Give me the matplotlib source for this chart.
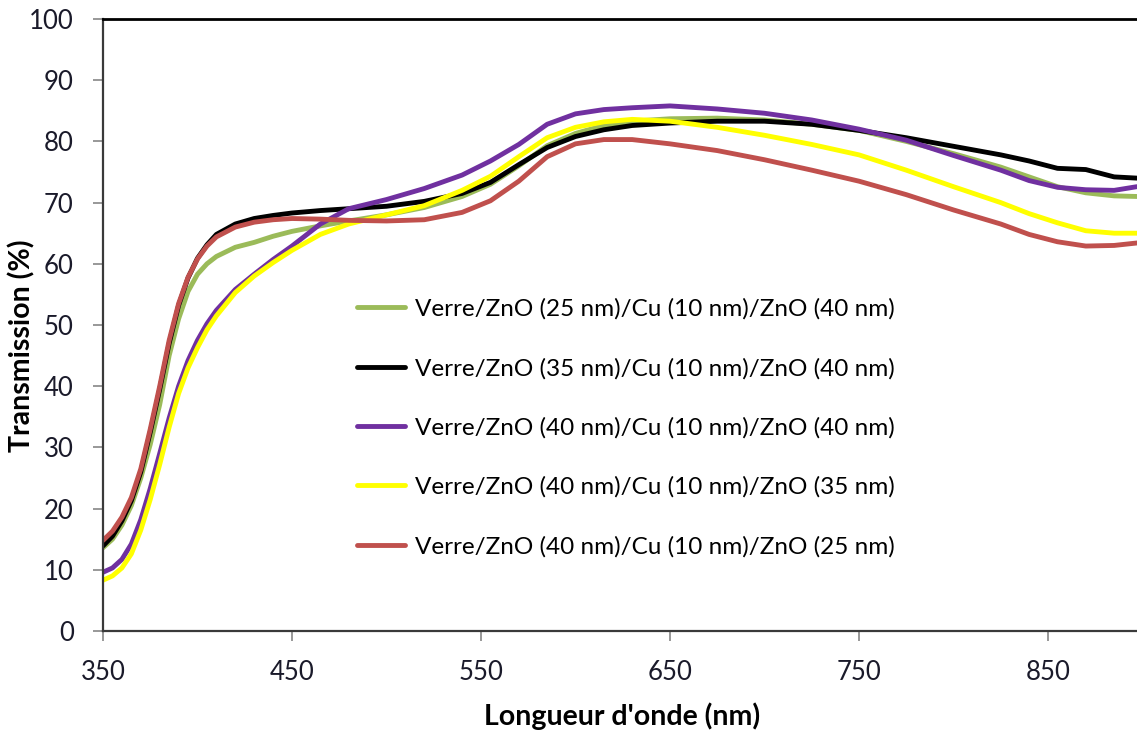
import numpy as np
import matplotlib
matplotlib.use("Agg")
import matplotlib.pyplot as plt

plt.rcParams['font.family'] = ['Lato', 'DejaVu Sans']

# wavelengths (nm)
wavelength = [350, 355, 360, 365, 370, 375, 380, 385, 390, 395, 400, 405, 410, 420, 430,
              440, 450, 465, 480, 500, 520, 540, 555, 570, 585, 600, 615, 630, 650, 675,
              700, 725, 750, 775, 800, 825, 840, 855, 870, 885, 897]

# transmission (%) for each stack
t_25_10_40 = [13.6, 15.0, 17.3, 20.5, 25.0, 30.5, 37.0, 45.0, 51.0, 55.5, 58.3, 60.0, 61.2, 62.7, 63.5,
              64.5, 65.3, 66.2, 67.0, 68.0, 69.2, 71.0, 73.0, 76.0, 79.3, 81.3, 82.6, 83.3, 83.7, 83.8,
              83.5, 82.8, 81.8, 80.0, 78.0, 75.8, 74.2, 72.6, 71.6, 71.1, 71.0]
t_35_10_40 = [13.9, 15.5, 18.0, 21.3, 26.0, 32.5, 39.5, 47.0, 53.2, 57.7, 60.9, 63.1, 64.8, 66.5, 67.4,
              67.9, 68.3, 68.7, 69.0, 69.4, 70.2, 71.5, 73.3, 76.2, 79.0, 80.8, 81.9, 82.6, 83.0, 83.3,
              83.3, 82.8, 81.8, 80.6, 79.2, 77.8, 76.8, 75.6, 75.4, 74.2, 74.0]
t_40_10_40 = [9.6, 10.3, 11.7, 14.2, 18.2, 23.3, 29.0, 34.8, 40.0, 44.2, 47.5, 50.2, 52.4, 55.8, 58.3,
              60.7, 62.9, 66.5, 69.0, 70.5, 72.3, 74.5, 76.8, 79.5, 82.8, 84.5, 85.2, 85.5, 85.8, 85.3,
              84.6, 83.5, 82.0, 80.2, 77.7, 75.3, 73.6, 72.5, 72.1, 72.0, 72.6]
t_40_10_35 = [8.3, 9.0, 10.3, 12.6, 16.5, 21.5, 27.2, 33.3, 38.8, 43.0, 46.3, 49.2, 51.5, 55.3, 58.0,
              60.2, 62.2, 64.8, 66.5, 68.0, 69.5, 72.0, 74.3, 77.5, 80.6, 82.3, 83.2, 83.6, 83.3, 82.3,
              81.0, 79.5, 77.8, 75.3, 72.6, 70.0, 68.2, 66.7, 65.4, 65.0, 65.0]
t_40_10_25 = [14.8, 16.3, 18.6, 21.8, 26.5, 33.0, 40.0, 47.5, 53.5, 57.8, 60.8, 62.9, 64.4, 66.0, 66.8,
              67.2, 67.4, 67.3, 67.1, 67.0, 67.2, 68.4, 70.3, 73.5, 77.5, 79.6, 80.3, 80.3, 79.6, 78.5,
              77.0, 75.3, 73.5, 71.3, 68.8, 66.5, 64.8, 63.6, 62.9, 63.0, 63.4]

labels = ['Verre/ZnO (25 nm)/Cu (10 nm)/ZnO (40 nm)',
          'Verre/ZnO (35 nm)/Cu (10 nm)/ZnO (40 nm)',
          'Verre/ZnO (40 nm)/Cu (10 nm)/ZnO (40 nm)',
          'Verre/ZnO (40 nm)/Cu (10 nm)/ZnO (35 nm)',
          'Verre/ZnO (40 nm)/Cu (10 nm)/ZnO (25 nm)']
series = [t_25_10_40, t_35_10_40, t_40_10_40, t_40_10_35, t_40_10_25]
colors = ['#9BBB59', '#000000', '#7030A0', '#FFFF00', '#C0504D']

W, H = 1137, 731
fig = plt.figure(figsize=(W / 100, H / 100), dpi=100)
ax = fig.add_axes([103 / W, (H - 631) / H, (W - 103) / W, (631 - 19) / H])

for y, c, lab in zip(series, colors, labels):
    ax.plot(wavelength, y, color=c, lw=3.5, label=lab, solid_capstyle='round')

ax.set_xlim(350, 350 + (W - 103) / 1.89)
ax.set_ylim(0, 100)
ax.set_xticks([350, 450, 550, 650, 750, 850])
ax.set_yticks(np.arange(0, 101, 10))
ax.tick_params(direction='out', length=7, width=1.2, color='#868686',
               labelsize=18.5, labelcolor='#1a1a2a')
ax.tick_params(axis='x', pad=14)
ax.tick_params(axis='y', pad=14)

for side in ['left', 'bottom']:
    ax.spines[side].set_color('#3a3a3a')
    ax.spines[side].set_linewidth(1.6)
ax.spines['top'].set_color('black')
ax.spines['top'].set_linewidth(2)
ax.spines['right'].set_visible(False)

fig.text(622 / W, 1 - 716 / H, "Longueur d'onde (nm)", fontsize=20.5, fontweight='bold',
         ha='center', va='center')
fig.text(22 / W, 1 - 346 / H, 'Transmission (%)', fontsize=20.5, fontweight='bold',
         ha='center', va='center', rotation=90)

ax.legend(loc='center left', bbox_to_anchor=(0.2456, 0.332), frameon=False,
          fontsize=17.5, handlelength=1.97, handletextpad=0.4, labelspacing=1.56,
          borderaxespad=0, borderpad=0)

fig.savefig('out.png', dpi=100)
